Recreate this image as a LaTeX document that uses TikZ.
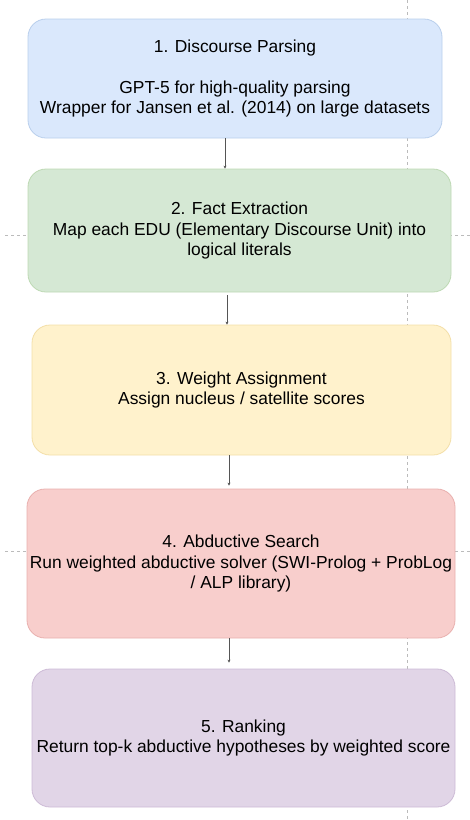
\documentclass[tikz,border=0pt]{standalone}
\usepackage{fontspec}
\setmainfont{Liberation Sans}
\usetikzlibrary{arrows.meta}

% fills and (soft) borders of the five stages
\definecolor{blueFill}{HTML}{DAE8FC}
\definecolor{blueLine}{HTML}{B9CFEC}
\definecolor{greenFill}{HTML}{D5E8D4}
\definecolor{greenLine}{HTML}{BDD9B3}
\definecolor{yellowFill}{HTML}{FFF2CC}
\definecolor{yellowLine}{HTML}{F3DFA8}
\definecolor{redFill}{HTML}{F8CECC}
\definecolor{redLine}{HTML}{E9B0AE}
\definecolor{purpleFill}{HTML}{E1D5E7}
\definecolor{purpleLine}{HTML}{CDBBD6}
\definecolor{guideGray}{HTML}{BBBBBB}
\definecolor{flowGray}{HTML}{555555}

\tikzset{
  stage/.style={rectangle, rounded corners=18pt, line width=0.8pt,
    align=center, inner sep=0pt, text=black,
    font=\fontsize{17.4}{20.5}\selectfont},
  guide/.style={guideGray, line width=0.6pt, dash pattern=on 3pt off 3pt},
  flow/.style={flowGray, line width=0.8pt,
    -{Stealth[length=3pt,width=3pt]}}
}

\begin{document}
\begin{tikzpicture}[x=1pt, y=-1pt]
\path[use as bounding box] (0,0) rectangle (470,820);

% alignment guides behind the boxes
\draw[guide] (407,0) -- (407,820);
\draw[guide] (5,235) -- (470,235);
\draw[guide] (5,551) -- (470,551);

% pipeline stages
\node[stage, fill=blueFill, draw=blueLine,
      minimum width=414pt, minimum height=119pt] (b1) at (235,78.5)
  {1. Discourse Parsing\\[20.5pt]
   GPT-5 for high-quality parsing\\
   Wrapper for Jansen et al. (2014) on large datasets};

\node[stage, fill=greenFill, draw=greenLine,
      minimum width=423pt, minimum height=123pt] (b2) at (239.5,230.5)
  {2. Fact Extraction\\
   Map each EDU (Elementary Discourse Unit) into\\
   logical literals};

\node[stage, fill=yellowFill, draw=yellowLine,
      minimum width=419pt, minimum height=130pt] (b3) at (241.5,390)
  {3. Weight Assignment\\
   Assign nucleus / satellite scores};

\node[stage, fill=redFill, draw=redLine,
      minimum width=428pt, minimum height=149pt] (b4) at (241,563.5)
  {4. Abductive Search\\
   Run weighted abductive solver (SWI-Prolog + ProbLog\\
   / ALP library)};

\node[stage, fill=purpleFill, draw=purpleLine,
      minimum width=423pt, minimum height=138pt] (b5) at (243.5,738)
  {5. Ranking\\
   Return top-k abductive hypotheses by weighted score};

% connectors
\coordinate (c1) at (225,0);
\coordinate (c2) at (227,0);
\coordinate (c3) at (229,0);
\draw[flow] (b1.south -| c1) -- (b2.north -| c1);
\draw[flow] ([yshift=-3pt]b2.south -| c2) -- (b3.north -| c2);
\draw[flow] (b3.south -| c3) -- ([yshift=3pt]b4.north -| c3);
\draw[flow] (b4.south -| c3) -- ([yshift=6pt]b5.north -| c3);
\end{tikzpicture}
\end{document}
